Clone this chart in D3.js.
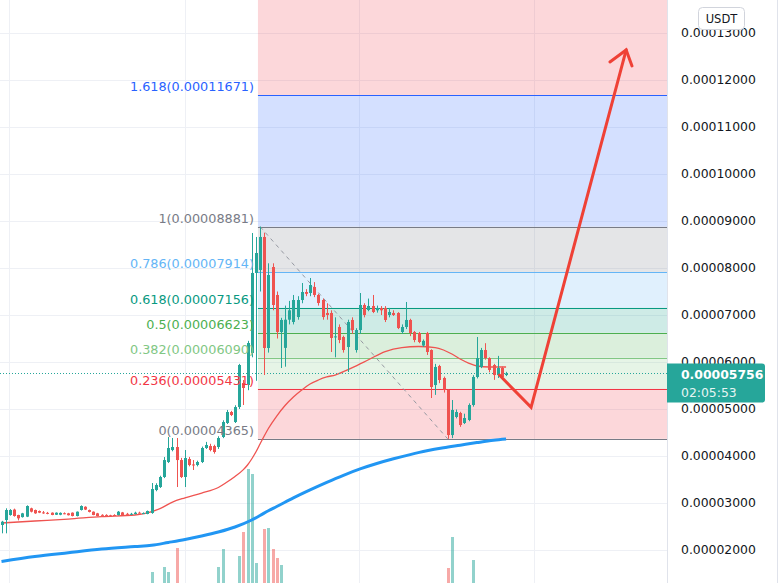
<!DOCTYPE html>
<html><head><meta charset="utf-8">
<script src="https://cdn.jsdelivr.net/npm/d3@7"></script>
<style>html,body{margin:0;padding:0;background:#fff;overflow:hidden}svg{display:block}</style>
</head><body><svg id="c" width="779" height="583"></svg>
<script>
// ---------- DATA (prices in units of 1e-8 USDT) ----------
const opens  = [2532,2638,2745,2860,2745,2700,2709,2887,2851,2830,2800,2790,2794,2750,2750,2782,2780,2794,2723,2851,2920,2850,2815,2780,2748,2746,2738,2745,2745,2800,2770,2765,2766,2794,2780,2766,
 2787,3276,3340,3553,3872,4127,4191,3914,3553,3936,3820,3808,3872,4170,4212,4212,4191,4404,4702,4936,4723,5042,5553,5510,6191,7894,7958,8660,6298,8021,7426,6638,6300,6900,6851,6957,7319,7489,7468,7596,7426,7319,7043,7043,6530,6745,6532,6319,6894,6255,6681,7213,7106,7192,7100,7149,7149,7000,7043,7043,6638,6745,6894,6638,6617,6350,6617,6255,5510,5915,5660,5404,4446,4830,4915,4702,4766,5085,5681,5894,6255,6085,5936,5723,5872,5723];
const highs  = [2620,2887,2870,2880,2750,2790,2950,2900,2860,2840,2830,2810,2800,2800,2800,2800,2790,2800,2820,2950,2930,2860,2820,2790,2760,2760,2750,2760,2830,2810,2790,2790,2815,2815,2800,2840,
 3425,3420,3580,3978,4404,4383,4383,3960,4127,3980,3914,3900,4200,4300,4260,4240,4420,4760,4980,4960,5080,5960,5617,6450,8745,8660,8881,8750,8100,8100,7500,6940,7200,7300,7426,7400,7681,7550,7787,7700,7450,7350,7250,7100,6950,6800,6560,6900,6950,6720,7468,7250,7350,7426,7200,7190,7190,7150,7100,7060,6800,7277,6920,6660,6640,6480,6640,6270,5960,5940,5690,5420,5191,4990,4940,4900,5120,5720,6532,6300,6400,6100,5960,6130,5900,5790];
const lows   = [2355,2355,2730,2710,2630,2690,2700,2800,2770,2785,2770,2760,2740,2745,2740,2760,2735,2715,2715,2840,2850,2800,2740,2715,2730,2735,2720,2730,2735,2735,2750,2750,2755,2780,2770,2760,
 2770,3250,3320,3530,3850,4100,3340,3531,3340,3780,3702,3780,3850,4150,4100,4050,4150,4380,4680,4850,4702,5000,5085,5400,6100,5600,7500,5723,6200,7100,6500,5872,5900,6800,6800,6900,7250,7400,7400,7380,7200,6900,6900,6213,6100,6400,6200,5787,6600,6200,6600,6950,7080,7040,7050,7000,6850,6950,6980,6700,6600,6700,6550,6420,6400,6320,6150,5234,5300,5550,5350,4365,4380,4800,4620,4680,4740,5050,5650,5870,6050,5780,5620,5660,5620,5700];
const closes = [2602,2851,2851,2723,2674,2780,2936,2815,2780,2794,2785,2780,2745,2794,2790,2778,2740,2723,2815,2936,2860,2810,2745,2723,2742,2742,2732,2740,2815,2745,2765,2770,2794,2790,2785,2830,
 3297,3383,3553,3914,4170,4191,3914,3553,3957,3808,3800,3872,4170,4234,4127,4085,4383,4723,4936,4872,5042,5936,5447,6404,7894,8319,8660,6298,7851,7213,6638,6894,6900,7100,7319,7319,7489,7450,7638,7426,7255,6957,7000,6511,6545,6468,6255,6851,6681,6681,7213,7000,7192,7064,7149,7100,6894,7064,7000,6723,6745,6894,6617,6468,6425,6450,6213,5468,5894,5617,5404,4446,4979,4936,4659,4808,5085,5681,6085,6255,6085,5830,5723,5872,5681,5756];
const volumes = [0,0,0,0,0,0,0,0,0,0,0,0,0,0,0,0,0,0,0,0,0,0,0,0,0,0,0,0,0,0,0,0,0,0,0,0,
 11,0,0,16,11,0,35,0,0,0,0,0,0,0,0,0,16,34,0,0,0,27,51,114,109,20,0,54,55,34,25,18,0,0,0,0,0,0,0,0,0,0,0,0,0,0,0,0,0,0,0,0,0,0,0,0,0,0,0,0,0,0,0,0,0,0,0,0,0,0,0,15,46,0,0,0,0,23,0,0,0,0,0,0,0,0];

// moving average lines (candle index, price)
const redMaIdx = [0,8,16,24,32,35,38,41,44,48,52,54,56,58,59,60,61,62,63,64,66,68,70,72,74,76,78,80,84,88,92,96,100,104,106,108,110,112,114,117,121];
const redMaVal = [2574,2617,2659,2710,2745,2790,2880,3020,3110,3212,3330,3440,3563,3710,3809,3936,4085,4255,4425,4585,4850,5074,5255,5404,5532,5617,5681,5723,5874,6047,6223,6308,6330,6308,6255,6170,6064,5978,5915,5894,5894];
const blueMaIdx = [0,8,16,24,32,36,40,44,48,52,56,60,62,64,66,70,74,78,82,86,90,94,98,102,106,110,114,118,121];
const blueMaVal = [1754,1860,1942,2020,2074,2100,2160,2223,2297,2382,2489,2638,2734,2835,2925,3110,3280,3440,3590,3725,3840,3940,4030,4110,4175,4230,4285,4335,4362];

// Fibonacci retracement
const fibLevels = ["0","0.236","0.382","0.5","0.618","0.786","1","1.618"];
const fibPrices = [4365,5431,6090,6623,7156,7914,8881,11671];
const fibColors = ["#787b86","#f23645","#81c784","#4caf50","#089981","#64b5f6","#787b86","#2962ff"];
const fibTopColor = "#f23645";
const fibStartIdx = 61.5;
const trendFrom = [62, 8881], trendTo = [107, 4365];

// price axis
const priceTicks = [2000,3000,4000,5000,6000,7000,8000,9000,10000,11000,12000,13000];
const lastPrice = 5756, countdown = "02:05:53", currency = "USDT";
const timeGridIdx = [1.8, 44, 85.7, 127.7];

// projection arrow (candle index, price)
const arrowIdx   = [119.4, 127.0, 149.8];
const arrowPrice = [5723, 5036, 12640];
const arrowHeadIdx = [145.9, 149.8, 151.2];
const arrowHeadPrice = [12384, 12640, 12299];

// ---------- DRAW ----------
const W = 779, H = 583, plotR = 667;
const N = opens.length;
const svg = d3.select("#c");
const x = d3.scaleLinear().domain([0, N - 1]).range([1.5, 1.5 + 4.17 * (N - 1)]);
const y = d3.scaleLinear().domain([2000, 13000]).range([550, 33]);
const vy = d3.scaleLinear().domain([0, 114]).range([583, 469]);
const fmt = v => (v * 1e-8).toFixed(8);
const up = "#26a69a", dn = "#ef5350";
const FONT = "DejaVu Sans, Verdana, sans-serif";

svg.append("defs").append("clipPath").attr("id", "pc").append("rect").attr("x", 0).attr("y", 0).attr("width", plotR).attr("height", H);
const plot = svg.append("g").attr("clip-path", "url(#pc)");

// grid
plot.selectAll(".hg").data(priceTicks).join("line")
  .attr("x1", 0).attr("x2", plotR).attr("y1", d => Math.round(y(d)) + 0.5).attr("y2", d => Math.round(y(d)) + 0.5)
  .attr("stroke", "#eef0f5").attr("stroke-width", 1);
plot.selectAll(".vg").data(timeGridIdx).join("line")
  .attr("x1", d => Math.round(x(d)) + 0.5).attr("x2", d => Math.round(x(d)) + 0.5).attr("y1", 0).attr("y2", H)
  .attr("stroke", "#eef0f5").attr("stroke-width", 1);

// fib fills
const fx0 = x(fibStartIdx);
const bands = fibPrices.map((p, i) => ({lo: p, hi: i < fibPrices.length - 1 ? fibPrices[i + 1] : null, color: i < fibPrices.length - 1 ? fibColors[i + 1] : fibTopColor}));
plot.selectAll(".fb").data(bands).join("rect")
  .attr("x", fx0).attr("width", plotR - fx0)
  .attr("y", d => d.hi === null ? 0 : y(d.hi))
  .attr("height", d => y(d.lo) - (d.hi === null ? 0 : y(d.hi)))
  .attr("fill", d => d.color).attr("fill-opacity", 0.2);

// volume
plot.selectAll(".vol").data(volumes.map((v, i) => ({v, i}))).join("rect")
  .attr("x", d => Math.round(x(d.i)) - 1).attr("width", 3)
  .attr("y", d => vy(d.v)).attr("height", d => vy(0) - vy(d.v))
  .attr("fill", d => closes[d.i] >= opens[d.i] ? up : dn).attr("fill-opacity", 0.5);

// fib lines
plot.selectAll(".fl").data(fibPrices).join("line")
  .attr("x1", fx0).attr("x2", plotR)
  .attr("y1", d => Math.round(y(d)) + 0.5).attr("y2", d => Math.round(y(d)) + 0.5)
  .attr("stroke", (d, i) => fibColors[i]).attr("stroke-width", 1);

// fib labels
svg.selectAll(".flab").data(fibPrices).join("text")
  .attr("x", fx0 - 4).attr("y", d => y(d) - 4)
  .attr("text-anchor", "end").attr("font-family", FONT).attr("font-size", 12.8)
  .attr("fill", (d, i) => fibColors[i])
  .text((d, i) => `${fibLevels[i]}(${fmt(d)})`);

// MA lines
const line = d3.line().x(d => x(d[0])).y(d => y(d[1])).curve(d3.curveMonotoneX);
plot.append("path").datum(blueMaIdx.map((d, i) => [d, blueMaVal[i]]))
  .attr("d", line).attr("fill", "none").attr("stroke", "#2196f3").attr("stroke-width", 3);
plot.append("path").datum(redMaIdx.map((d, i) => [d, redMaVal[i]]))
  .attr("d", line).attr("fill", "none").attr("stroke", "#ef5350").attr("stroke-width", 1.3);

// current price dotted line
plot.append("line").attr("x1", 0).attr("x2", plotR)
  .attr("y1", Math.round(y(lastPrice)) + 0.5).attr("y2", Math.round(y(lastPrice)) + 0.5)
  .attr("stroke", up).attr("stroke-dasharray", "1,2").attr("stroke-width", 1);

// trend line (dashed)
plot.append("line")
  .attr("x1", x(trendFrom[0])).attr("y1", y(trendFrom[1]))
  .attr("x2", x(trendTo[0])).attr("y2", y(trendTo[1]))
  .attr("stroke", "#9598a1").attr("stroke-dasharray", "4,4").attr("stroke-width", 1);

// candles
const cd = opens.map((o, i) => ({i, o, h: highs[i], l: lows[i], c: closes[i]}));
const cg = plot.append("g");
cg.selectAll(".wk").data(cd).join("line")
  .attr("x1", d => Math.round(x(d.i)) + 0.5).attr("x2", d => Math.round(x(d.i)) + 0.5)
  .attr("y1", d => y(d.h)).attr("y2", d => y(d.l))
  .attr("stroke", d => d.c >= d.o ? up : dn).attr("stroke-width", 1);
cg.selectAll(".bd").data(cd).join("rect")
  .attr("x", d => Math.round(x(d.i)) - 1).attr("width", 3)
  .attr("y", d => y(Math.max(d.o, d.c)))
  .attr("height", d => Math.max(1, Math.abs(y(d.o) - y(d.c))))
  .attr("fill", d => d.c >= d.o ? up : dn);

// arrow
const lineS = d3.line().x(d => x(d[0])).y(d => y(d[1]));
plot.append("path").datum(arrowIdx.map((d, i) => [d, arrowPrice[i]])).attr("d", lineS).attr("fill", "none")
  .attr("stroke", "#ef4136").attr("stroke-width", 3).attr("stroke-linejoin", "miter").attr("stroke-linecap", "round");
plot.append("path").datum(arrowHeadIdx.map((d, i) => [d, arrowHeadPrice[i]])).attr("d", lineS).attr("fill", "none")
  .attr("stroke", "#ef4136").attr("stroke-width", 3).attr("stroke-linejoin", "miter").attr("stroke-linecap", "round");

// price axis
svg.append("rect").attr("x", plotR).attr("y", 0).attr("width", W - plotR).attr("height", H).attr("fill", "#fff");
svg.append("line").attr("x1", plotR + 0.5).attr("x2", plotR + 0.5).attr("y1", 0).attr("y2", H).attr("stroke", "#e0e3eb");
svg.append("line").attr("x1", 777.5).attr("x2", 777.5).attr("y1", 0).attr("y2", H).attr("stroke", "#e0e3eb");
svg.selectAll(".pt").data(priceTicks).join("text")
  .attr("x", 681).attr("y", d => y(d)).attr("dy", "0.35em")
  .attr("font-family", FONT).attr("font-size", 12.4).attr("fill", "#131722")
  .text(d => fmt(d));

// USDT badge (overlaps the top tick label as in the original)
svg.append("rect").attr("x", 698.5).attr("y", 7.5).attr("width", 46).attr("height", 22).attr("rx", 4)
  .attr("fill", "#fff").attr("stroke", "#d1d4dc");
svg.append("text").attr("x", 721.5).attr("y", 18.5).attr("dy", "0.35em").attr("text-anchor", "middle")
  .attr("font-family", FONT).attr("font-size", 11.5).attr("fill", "#131722").text(currency);

// last price label
const ly = y(lastPrice);
svg.append("path")
  .attr("d", `M${plotR},${ly - 10} H762 q3,0 3,3 V${ly + 26} q0,3 -3,3 H${plotR} Z`)
  .attr("fill", up);
svg.append("text").attr("x", 681).attr("y", ly + 1).attr("dy", "0.35em")
  .attr("font-family", FONT).attr("font-size", 12.4).attr("font-weight", 600).attr("fill", "#fff")
  .text(fmt(lastPrice));
svg.append("text").attr("x", 681).attr("y", ly + 19).attr("dy", "0.35em")
  .attr("font-family", FONT).attr("font-size", 12.4).attr("fill", "#e6f5f3")
  .text(countdown);
</script></body></html>
